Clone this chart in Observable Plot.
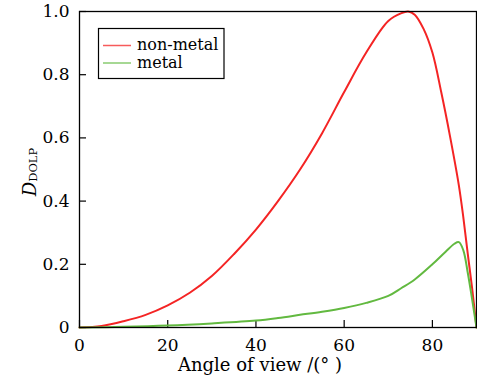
<!DOCTYPE html>
<html>
<head>
<meta charset="utf-8">
<script src="https://cdn.jsdelivr.net/npm/d3@7"></script>
<script src="https://cdn.jsdelivr.net/npm/@observablehq/plot@0.6"></script>
<style>
  html, body { margin: 0; padding: 0; background: #fff; }
</style>
</head>
<body>
<div id="chart"></div>
<script>
// ---- data ----
const nonMetalAngle = [0, 5, 10, 15, 20, 25, 30, 35, 40, 45, 50, 55, 60, 65, 70, 73, 74.5, 76, 78, 80, 82, 84, 86, 87, 88, 89, 90];
const nonMetalValue = [0, 0.005, 0.02, 0.04, 0.07, 0.11, 0.163, 0.232, 0.31, 0.40, 0.50, 0.615, 0.745, 0.87, 0.97, 0.995, 1.0, 0.99, 0.945, 0.87, 0.745, 0.605, 0.45, 0.35, 0.235, 0.125, 0];

const metalAngle = [0, 10, 20, 30, 40, 45, 50, 55, 60, 65, 70, 73, 76, 80, 83, 85, 86, 87, 88, 89, 90];
const metalValue = [0, 0.002, 0.006, 0.013, 0.022, 0.03, 0.04, 0.05, 0.062, 0.078, 0.10, 0.125, 0.152, 0.20, 0.24, 0.265, 0.27, 0.245, 0.175, 0.09, 0];

const seriesNames = ["non-metal", "metal"];
const seriesColors = ["#f42424", "#62b940"];

const xTicks = [0, 20, 40, 60, 80];
const yTicks = [0, 0.2, 0.4, 0.6, 0.8, 1.0];
const xLabel = "Angle of view /(° )";
const yLabelMain = "D";
const yLabelSub = "DOLP";

// ---- build ----
const nonMetal = nonMetalAngle.map((a, i) => ({angle: a, value: nonMetalValue[i]}));
const metal = metalAngle.map((a, i) => ({angle: a, value: metalValue[i]}));

const W = 477, H = 386;
const mL = 79, mR = 1, mT = 11, mB = 59;
const plotW = W - mL - mR, plotH = H - mT - mB;
const tickLen = 7;
const font = "DejaVu Serif";

const chart = Plot.plot({
  width: W,
  height: H,
  marginLeft: mL,
  marginRight: mR,
  marginTop: mT,
  marginBottom: mB,
  style: {fontFamily: font, fontSize: "17px", background: "white", color: "black"},
  x: {domain: [0, 90]},
  y: {domain: [0, 1]},
  marks: [
    Plot.axisX({ticks: xTicks, tickSize: 0, tickPadding: 11, label: null, fontSize: 17}),
    Plot.axisY({ticks: yTicks, tickSize: 0, tickPadding: 10, label: null, fontSize: 17,
                tickFormat: d => d === 0 ? "0" : d.toFixed(1)}),
    Plot.tickX(xTicks, {x: d => d, insetTop: plotH - tickLen, stroke: "black", strokeWidth: 1.2}),
    Plot.tickY(yTicks, {y: d => d, insetRight: plotW - tickLen, stroke: "black", strokeWidth: 1.2}),
    Plot.line(nonMetal, {x: "angle", y: "value", stroke: seriesColors[0], strokeWidth: 2, curve: "catmull-rom"}),
    Plot.line(metal, {x: "angle", y: "value", stroke: seriesColors[1], strokeWidth: 2, curve: "catmull-rom"}),
    Plot.frame({stroke: "black", strokeWidth: 1.3}),
    Plot.text([xLabel], {frameAnchor: "bottom", dy: 43, dx: -18, fontSize: 18, fill: "black"})
  ]
});

document.getElementById("chart").appendChild(chart);

const svg = d3.select(chart);

// y label with subscript
const yl = svg.append("text")
  .attr("transform", "translate(36,172) rotate(-90)")
  .attr("text-anchor", "middle")
  .attr("font-family", font)
  .attr("fill", "black");
yl.append("tspan").attr("font-style", "italic").attr("font-size", 18).text(yLabelMain);
yl.append("tspan").attr("font-size", 11.5).attr("dy", 1).text(yLabelSub);

// legend box
const lg = svg.append("g").attr("font-family", font).attr("font-size", 16).attr("text-anchor", "start");
lg.append("rect").attr("x", 98.5).attr("y", 28.5).attr("width", 125.5).attr("height", 50)
  .attr("fill", "white").attr("stroke", "black").attr("stroke-width", 1.2);
const rowsY = [45.5, 63];
seriesNames.forEach((name, i) => {
  lg.append("line").attr("x1", 103).attr("x2", 131).attr("y1", rowsY[i]).attr("y2", rowsY[i])
    .attr("stroke", seriesColors[i]).attr("stroke-width", 1.5).attr("stroke-opacity", 0.75);
  lg.append("text").attr("x", 137).attr("y", rowsY[i] + 4.5).attr("fill", "black")
    .attr("text-anchor", "start").text(name);
});
</script>
</body>
</html>
